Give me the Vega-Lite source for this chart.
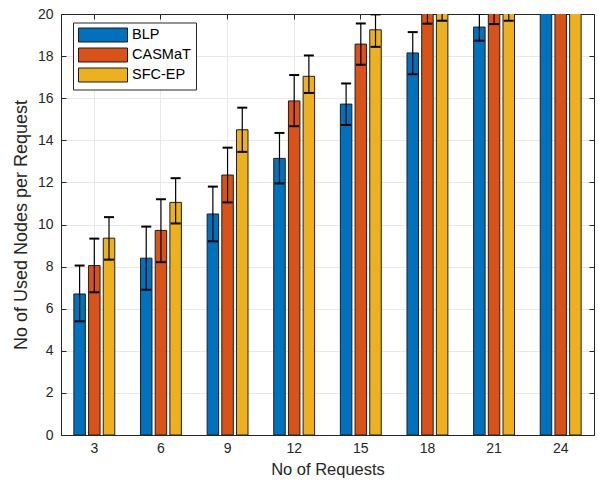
{
  "$schema": "https://vega.github.io/schema/vega-lite/v6.json",
  "width": 533,
  "height": 421,
  "autosize": {"type": "none"},
  "padding": {"left": 61, "top": 14, "right": 4, "bottom": 53},
  "background": "white",
  "config": {
    "font": "Liberation Sans",
    "view": {"stroke": null},
    "axis": {
      "domainColor": "#262626",
      "tickColor": "#262626",
      "labelColor": "#262626",
      "titleColor": "#262626",
      "labelFont": "Liberation Sans",
      "titleFont": "Liberation Sans",
      "labelFontSize": 14,
      "titleFontSize": 16.5,
      "titleFontWeight": "normal",
      "gridColor": "#e8e8e8",
      "gridWidth": 1,
      "tickSize": -5,
      "tickWidth": 1,
      "domainWidth": 1
    },
    "legend": {
      "orient": "none",
      "legendX": 12,
      "legendY": 8.5,
      "fillColor": "white",
      "strokeColor": "#262626",
      "padding": 5,
      "labelFont": "Liberation Sans",
      "labelFontSize": 14.5,
      "labelColor": "#000000",
      "symbolType": "M-1,-1H6V1H-1Z",
      "symbolSize": 196,
      "symbolStrokeColor": "#1a1a1a",
      "symbolStrokeWidth": 1,
      "symbolOpacity": 1,
      "labelOffset": 39,
      "rowPadding": 1
    }
  },
  "data": {
    "values": [
      {"n": 3, "alg": "BLP", "mean": 6.7, "lo": 5.4, "hi": 8.05},
      {"n": 3, "alg": "CASMaT", "mean": 8.05, "lo": 6.78, "hi": 9.33},
      {"n": 3, "alg": "SFC-EP", "mean": 9.35, "lo": 8.33, "hi": 10.35},
      {"n": 6, "alg": "BLP", "mean": 8.4, "lo": 6.9, "hi": 9.9},
      {"n": 6, "alg": "CASMaT", "mean": 9.72, "lo": 8.21, "hi": 11.2},
      {"n": 6, "alg": "SFC-EP", "mean": 11.05, "lo": 10.05, "hi": 12.2},
      {"n": 9, "alg": "BLP", "mean": 10.5, "lo": 9.2, "hi": 11.8},
      {"n": 9, "alg": "CASMaT", "mean": 12.35, "lo": 11.05, "hi": 13.65},
      {"n": 9, "alg": "SFC-EP", "mean": 14.5, "lo": 13.45, "hi": 15.55},
      {"n": 12, "alg": "BLP", "mean": 13.14, "lo": 11.95, "hi": 14.35},
      {"n": 12, "alg": "CASMaT", "mean": 15.87, "lo": 14.67, "hi": 17.1},
      {"n": 12, "alg": "SFC-EP", "mean": 17.04, "lo": 16.25, "hi": 18.03},
      {"n": 15, "alg": "BLP", "mean": 15.72, "lo": 14.73, "hi": 16.7},
      {"n": 15, "alg": "CASMaT", "mean": 18.57, "lo": 17.59, "hi": 19.55},
      {"n": 15, "alg": "SFC-EP", "mean": 19.25, "lo": 18.44, "hi": 19.98},
      {"n": 18, "alg": "BLP", "mean": 18.15, "lo": 17.14, "hi": 19.14},
      {"n": 18, "alg": "CASMaT", "mean": 20.5, "lo": 19.54, "hi": 21.5},
      {"n": 18, "alg": "SFC-EP", "mean": 20.4, "lo": 19.68, "hi": 21.1},
      {"n": 21, "alg": "BLP", "mean": 19.38, "lo": 18.73, "hi": 20.02},
      {"n": 21, "alg": "CASMaT", "mean": 20.5, "lo": 19.52, "hi": 21.5},
      {"n": 21, "alg": "SFC-EP", "mean": 20.4, "lo": 19.68, "hi": 21.1},
      {"n": 24, "alg": "BLP", "mean": 20.6, "lo": 20.1, "hi": 21.1},
      {"n": 24, "alg": "CASMaT", "mean": 20.6, "lo": 20.1, "hi": 21.1},
      {"n": 24, "alg": "SFC-EP", "mean": 20.6, "lo": 20.2, "hi": 21.0}
    ]
  },
  "encoding": {
    "x": {
      "field": "n",
      "type": "ordinal",
      "scale": {"paddingInner": 0, "paddingOuter": 0},
      "axis": {
        "title": "No of Requests",
        "labelAngle": 0,
        "grid": true,
        "bandPosition": 0.5,
        "labelPadding": 11,
        "titlePadding": 6
      }
    },
    "xOffset": {
      "field": "alg",
      "type": "nominal",
      "scale": {"paddingInner": 0.218, "paddingOuter": 0.875}
    },
    "y": {
      "field": "mean",
      "type": "quantitative",
      "scale": {"domain": [0, 20], "nice": false, "zero": true},
      "axis": {
        "title": "No of Used Nodes per Request",
        "titleFontSize": 18,
        "values": [0, 2, 4, 6, 8, 10, 12, 14, 16, 18, 20],
        "grid": true,
        "labelPadding": 13,
        "titlePadding": 7
      }
    }
  },
  "resolve": {"axis": {"x": "independent", "y": "independent"}},
  "layer": [
    {
      "mark": {"type": "bar", "clip": true, "stroke": "#1f1f1f", "strokeWidth": 1, "opacity": 1},
      "encoding": {
        "color": {
          "field": "alg",
          "type": "nominal",
          "title": null,
          "scale": {"domain": ["BLP", "CASMaT", "SFC-EP"], "range": ["#0072BD", "#D95319", "#EDB120"]}
        }
      }
    },
    {
      "mark": {"type": "rule", "clip": true, "color": "#000000", "strokeWidth": 1.2},
      "encoding": {
        "x": {"field": "n", "type": "ordinal", "axis": {"orient": "top", "labels": false, "title": null, "grid": false, "bandPosition": 0.5, "domain": true}},
        "y": {"field": "lo", "type": "quantitative", "axis": {"orient": "right", "labels": false, "title": null, "grid": false, "values": [0, 2, 4, 6, 8, 10, 12, 14, 16, 18, 20], "domain": true}},
        "y2": {"field": "hi"}
      }
    },
    {
      "mark": {"type": "tick", "clip": true, "color": "#000000", "thickness": 2, "size": 10, "opacity": 1},
      "encoding": {
        "x": {"field": "n", "type": "ordinal", "axis": null},
        "y": {"field": "lo", "type": "quantitative", "axis": null}
      }
    },
    {
      "mark": {"type": "tick", "clip": true, "color": "#000000", "thickness": 2, "size": 10, "opacity": 1},
      "encoding": {
        "x": {"field": "n", "type": "ordinal", "axis": null},
        "y": {"field": "hi", "type": "quantitative", "axis": null}
      }
    }
  ]
}
